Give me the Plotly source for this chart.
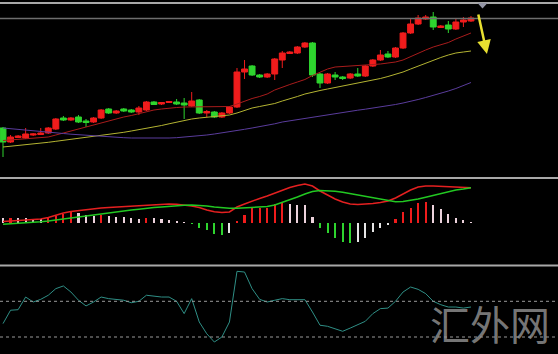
import plotly.graph_objects as go

# ---------------- data ----------------
idx = list(range(63))

opens = [52, 38, 42.5, 42, 45, 45.5, 47, 51, 62, 60,
         63, 59, 58, 62, 71, 67, 71, 70, 68, 70,
         78, 76, 77.5, 78, 77, 74, 80, 67, 68, 63,
         67, 73, 108, 114, 105, 103, 106, 120, 126.5, 127,
         133, 137, 106, 97, 105, 103, 102, 106, 104, 114,
         120, 126, 123, 132, 147, 156, 161, 163, 152.5, 155,
         151, 158, 159]
closes = [38, 43, 44, 46, 46, 47, 52, 61, 60, 62,
          58, 57.5, 62, 70, 67, 69, 69, 68, 72, 78,
          75.5, 77.5, 78.5, 76, 75, 79, 67, 68.5, 63, 67,
          73, 108, 111, 105, 103, 106, 121, 127, 128, 133,
          137, 105, 97, 106, 103, 101.5, 106, 104, 114, 120,
          125, 123, 132, 147, 156, 162, 163, 153, 154, 151,
          158, 160, 162]
highs = [53, 45, 45, 52, 47, 52, 53, 62, 64, 63,
         65, 61, 63, 71, 72, 70, 72, 71, 74, 79,
         79, 78, 79, 81, 82, 88, 81, 70, 69, 68,
         74, 112, 120, 115, 106, 107, 122, 129, 129, 134,
         138, 138, 107, 107, 108, 104, 107, 112, 115, 121,
         130, 129, 133, 148, 162, 165, 165, 168, 155, 159,
         162, 163, 164]
lows = [23, 37, 42, 41, 44, 45, 46, 50, 59, 59,
        57, 53, 57, 61, 66, 66, 68, 67, 65, 69,
        75, 75, 77, 75, 61, 73, 66, 63, 62, 62,
        66, 72, 101, 104, 102, 102, 100, 112, 126, 126,
        132, 103, 92, 96, 100, 100, 101, 103, 103, 113,
        119, 122, 122, 131, 146, 155, 160, 150, 152, 147,
        150, 153, 158]

ma_short = [39.5, 40, 40.5, 41, 41.5, 42, 43, 45, 47, 49.5,
            51.5, 53.5, 55.5, 57, 59, 61, 63, 64.5, 66.5, 68.5,
            70, 71, 72, 72.5, 73, 73, 73, 73, 73, 73,
            73.5, 76, 79, 81.5, 83.5, 86, 90, 93, 95.5, 98,
            100.5, 104.5, 108, 111, 113, 113.5, 113.5, 114, 114.5, 115,
            116, 117, 118, 120, 123.5, 127, 130, 133, 135, 137.5,
            141, 144, 147]
ma_mid = [33, 33.7, 34.5, 35.3, 36, 36.8, 37.7, 38.7, 39.7, 40.7,
          41.5, 42.5, 43.3, 44.2, 45.2, 46.5, 47.7, 49, 50.2, 51.5,
          52.7, 54.5, 56.2, 58, 59.5, 61, 62, 62.7, 63.5, 64.2,
          65, 67, 69.5, 72, 73.5, 75, 76.5, 79, 81, 83.5,
          86, 88, 89.5, 91, 92.5, 93.5, 95, 96.5, 98, 99.5,
          101.5, 103.5, 105.5, 108, 111, 114, 117, 120, 122.5, 125,
          127, 128, 129]
ma_long = [52, 51.4, 50.8, 50.2, 49.5, 48.8, 48, 47.2, 46.5, 45.8,
           45.2, 44.6, 44, 43.5, 43, 42.6, 42.3, 42, 41.9, 41.8,
           41.8, 41.9, 42, 42.3, 42.8, 43.4, 44.1, 45, 46, 47,
           48.2, 49.5, 50.7, 52, 53.3, 54.7, 56.2, 58, 59.2, 60.5,
           62, 63.3, 64.5, 65.6, 66.7, 67.8, 68.8, 69.8, 70.8, 71.8,
           73, 74.3, 75.5, 77, 78.5, 80.5, 82.5, 84.5, 86.5, 89,
           91.5, 94.5, 97.5]

macd_hist = [0.052, 0.055, 0.053, 0.047, 0.04, 0.037, 0.047, 0.073, 0.093, 0.107,
             0.097, 0.08, 0.073, 0.08, 0.073, 0.063, 0.057, 0.047, 0.04, 0.053,
             0.047, 0.04, 0.03, 0.013, 0.003, -0.005, -0.053, -0.07, -0.113, -0.12,
             -0.103, 0.013, 0.08, 0.147, 0.153, 0.155, 0.187, 0.197, 0.187, 0.18,
             0.178, 0.063, -0.047, -0.103, -0.153, -0.19, -0.195, -0.187, -0.153, -0.093,
             -0.047, -0.02, 0.04, 0.107, 0.153, 0.197, 0.213, 0.18, 0.14, 0.087,
             0.053, 0.03, 0.003]
macd_dif = [0.015, 0.02, 0.025, 0.03, 0.035, 0.04, 0.055, 0.08, 0.10, 0.115,
            0.125, 0.135, 0.145, 0.15, 0.155, 0.16, 0.165, 0.17, 0.175, 0.18,
            0.183, 0.187, 0.19, 0.188, 0.18, 0.17, 0.155, 0.13, 0.113, 0.105,
            0.11, 0.16, 0.19, 0.22, 0.245, 0.27, 0.30, 0.33, 0.355, 0.375,
            0.39, 0.37, 0.32, 0.28, 0.24, 0.21, 0.19, 0.185, 0.187, 0.195,
            0.205, 0.22, 0.25, 0.29, 0.33, 0.36, 0.37, 0.37, 0.367, 0.364,
            0.36, 0.357, 0.353]
macd_dea = [-0.012, -0.008, -0.003, 0.003, 0.007, 0.012, 0.02, 0.03, 0.042, 0.055,
            0.065, 0.077, 0.085, 0.092, 0.10, 0.11, 0.12, 0.13, 0.138, 0.148,
            0.154, 0.16, 0.167, 0.172, 0.177, 0.18, 0.177, 0.17, 0.16, 0.152,
            0.147, 0.147, 0.15, 0.155, 0.16, 0.165, 0.18, 0.205, 0.23, 0.26,
            0.29, 0.315, 0.325, 0.323, 0.318, 0.307, 0.293, 0.278, 0.263, 0.25,
            0.235, 0.22, 0.213, 0.215, 0.225, 0.24, 0.257, 0.275, 0.295, 0.315,
            0.33, 0.34, 0.353]

cci = [-25, 50, 53, 124, 96, 111, 134, 171, 186, 152,
       106, 74, 96, 124, 115, 109, 106, 92, 100, 134,
       128, 124, 124, 100, 31, 115, -16, -82, -128, -100,
       -16, 268, 264, 171, 111, 96, 106, 115, 109, 109,
       109, 40, -34, -40, -53, -68, -50, -31, -12, 31,
       59, 62, 100, 152, 180, 167, 143, 100, 81, 68,
       68, 62, 68]
cci_levels = [100, -100]
top_price_line = 161.5
arrow_from = (62.93, 167)
arrow_to = (64.12, 126)

# ---------------- styles ----------------
RED = "#f01c1c"
GREEN = "#2ed42e"

hist_colors = []
for i, v in enumerate(macd_hist):
    prev = macd_hist[i - 1] if i > 0 else v
    if v >= 0:
        hist_colors.append(RED if v > prev else "#ecd2dc")
    else:
        hist_colors.append(GREEN if v < prev else "#e6e6e6")

fig = go.Figure()

fig.add_trace(go.Candlestick(
    x=idx, open=opens, high=highs, low=lows, close=closes,
    increasing=dict(line=dict(color=RED, width=1), fillcolor=RED),
    decreasing=dict(line=dict(color=GREEN, width=1), fillcolor=GREEN),
    whiskerwidth=0, xaxis="x", yaxis="y", hoverinfo="skip"))

for vals, col in [(ma_short, "#a81c1c"), (ma_mid, "#b4b432"), (ma_long, "#5a3c9c")]:
    fig.add_trace(go.Scatter(x=idx, y=vals, mode="lines",
                             line=dict(color=col, width=1), xaxis="x", yaxis="y",
                             hoverinfo="skip"))

fig.add_trace(go.Bar(x=idx, y=macd_hist, marker=dict(color=hist_colors, line=dict(width=0)),
                     width=0.28, xaxis="x", yaxis="y2", hoverinfo="skip"))
fig.add_trace(go.Scatter(x=idx, y=macd_dif, mode="lines", line=dict(color="#e42020", width=1.5),
                         xaxis="x", yaxis="y2", hoverinfo="skip"))
fig.add_trace(go.Scatter(x=idx, y=macd_dea, mode="lines", line=dict(color="#22c822", width=1.5),
                         xaxis="x", yaxis="y2", hoverinfo="skip"))

fig.add_trace(go.Scatter(x=idx, y=cci, mode="lines", line=dict(color="#2f8f86", width=1),
                         xaxis="x", yaxis="y3", hoverinfo="skip"))

H = 354.0
def py(px):
    return 1 - px / H

axis_common = dict(showgrid=False, zeroline=False, showticklabels=False,
                   showline=False, ticks="", fixedrange=True)

fig.update_layout(
    width=558, height=354,
    margin=dict(l=0, r=0, t=0, b=0),
    paper_bgcolor="black", plot_bgcolor="black",
    showlegend=False, hovermode=False, bargap=0, boxgap=0.22, boxgroupgap=0,
    xaxis=dict(range=[-0.3974, 73.53], rangeslider=dict(visible=False), **axis_common),
    yaxis=dict(domain=[py(177), py(3)], range=[3, 177], **axis_common),
    yaxis2=dict(domain=[py(265), py(178)], range=[-0.42, 0.45], **axis_common),
    yaxis3=dict(domain=[0, py(266)], range=[-195.2, 297.8], **axis_common),
)

shapes = []
# panel separators
for ypx, col, w in [(3, "#a8a8a8", 2), (178, "#a8a8a8", 2), (265.5, "#a8a8a8", 2)]:
    shapes.append(dict(type="line", xref="paper", yref="paper", x0=0, x1=1,
                       y0=py(ypx), y1=py(ypx), line=dict(color=col, width=w)))
# price level line
shapes.append(dict(type="line", xref="paper", yref="y", x0=0, x1=1,
                   y0=top_price_line, y1=top_price_line, line=dict(color="#6e6e6e", width=1.5)))
# CCI level lines
for lv in cci_levels:
    shapes.append(dict(type="line", xref="paper", yref="y3", x0=0, x1=1,
                       y0=lv, y1=lv, line=dict(color="#9a9a9a", width=1, dash="dot")))
# small marker triangle at top
shapes.append(dict(type="path", xref="paper", yref="paper",
                   path=f"M {477.5/558} {py(3)} L {487.5/558} {py(3)} L {482.5/558} {py(8.5)} Z",
                   fillcolor="#9496a6", line=dict(width=0)))
fig.update_layout(shapes=shapes)

fig.add_annotation(x=arrow_to[0], y=arrow_to[1], ax=arrow_from[0], ay=arrow_from[1],
                   xref="x", yref="y", axref="x", ayref="y", text="",
                   showarrow=True, arrowhead=2, arrowsize=1.1, arrowwidth=2.5,
                   arrowcolor="#e8e030")
fig.add_annotation(x=490 / 558, y=py(323), xref="paper", yref="paper",
                   text="汇外网", showarrow=False, xanchor="center", yanchor="middle",
                   font=dict(family="Noto Sans CJK SC", size=40, color="rgba(150,150,150,0.8)"))

fig.write_html("out.html")
